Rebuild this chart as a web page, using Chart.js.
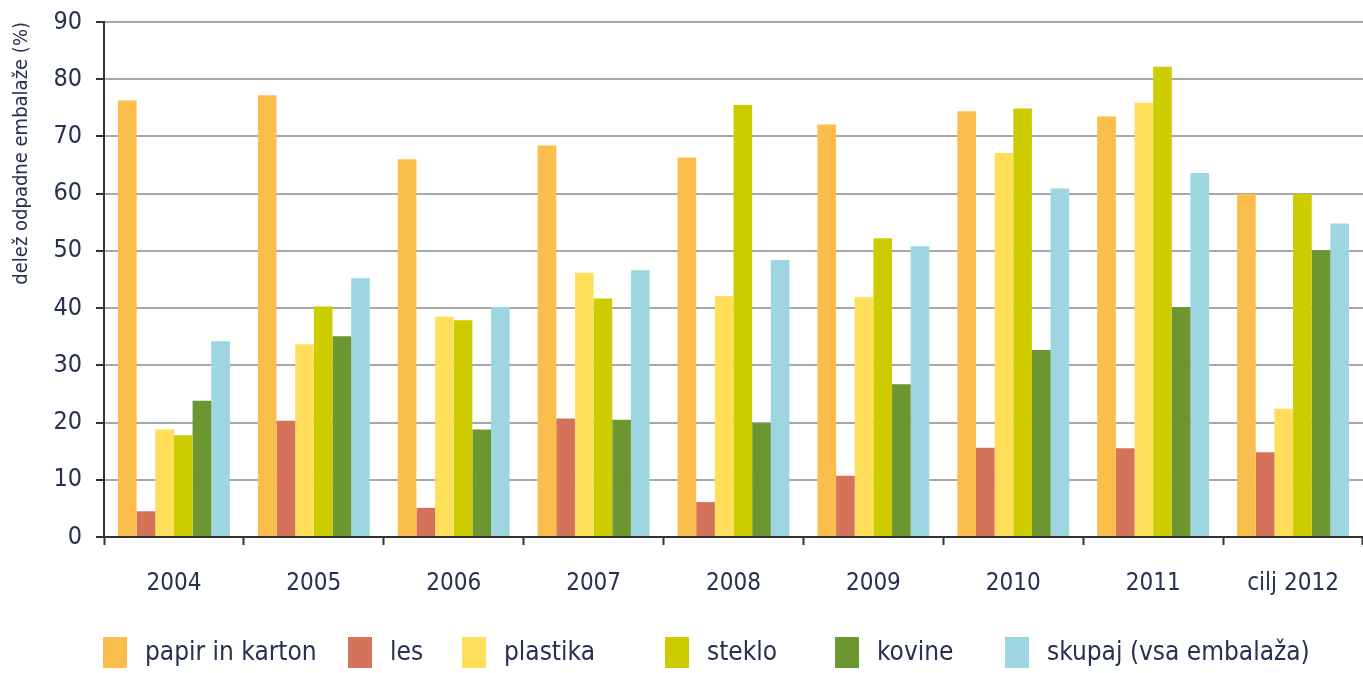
<!DOCTYPE html>
<html>
<head>
<meta charset="utf-8">
<script src="https://cdn.jsdelivr.net/npm/chart.js@4/dist/chart.umd.min.js"></script>
<style>
  html, body { margin: 0; padding: 0; background: #fff; }
  #wrap { width: 1363px; height: 673px; }
</style>
</head>
<body>
<div id="wrap"><canvas id="ChartCanvas" width="1363" height="673"></canvas></div>
<script>
// categories on the x axis
const years = ['2004', '2005', '2006', '2007', '2008', '2009', '2010', '2011', 'cilj 2012'];

// share of packaging waste recovered, per material (%)
const papirInKarton = [76.3, 77.2, 66.0, 68.4, 66.3, 72.1, 74.4, 73.5, 60.0];
const les           = [4.5, 20.3, 5.1, 20.7, 6.1, 10.7, 15.6, 15.5, 14.8];
const plastika      = [18.8, 33.7, 38.5, 46.2, 42.1, 41.9, 67.1, 75.9, 22.4];
const steklo        = [17.8, 40.3, 37.9, 41.7, 75.5, 52.2, 74.9, 82.2, 60.0];
const kovine        = [23.8, 35.1, 18.8, 20.5, 19.9, 26.7, 32.7, 40.2, 50.1];
const skupaj        = [34.2, 45.2, 40.2, 46.6, 48.4, 50.8, 60.9, 63.6, 54.8];

const FONT = "'Liberation Sans Narrow', 'DejaVu Sans Condensed', sans-serif";
const TEXT_COLOR = '#26304f';

// left edge of each legend swatch, the legend in the original is not evenly spaced
const legendX = [103, 348, 462, 665, 835, 1005];

/**
 * Draws the legend row under the axis, one swatch + label per dataset.
 */
const customLegend = {
  id: 'customLegend',
  afterDraw: chart => {
    const ctx = chart.ctx;
    ctx.save();
    ctx.font = '26px ' + FONT;
    ctx.textBaseline = 'middle';
    ctx.textAlign = 'left';
    chart.data.datasets.forEach((ds, i) => {
      const x = legendX[i];
      ctx.fillStyle = ds.backgroundColor;
      ctx.fillRect(x, 637, 24, 31);
      ctx.fillStyle = TEXT_COLOR;
      ctx.fillText(ds.label, x + 42, 653);
    });
    ctx.restore();
  }
};

function makeSet(label, data, color) {
  return {
    label: label,
    data: data,
    backgroundColor: color,
    borderWidth: 0,
    categoryPercentage: 0.8,
    barPercentage: 1.0,
  };
}

const chart = new Chart(document.getElementById('ChartCanvas'), {
  type: 'bar',
  data: {
    labels: years,
    datasets: [
      makeSet('papir in karton', papirInKarton, '#fbbe4c'),
      makeSet('les', les, '#d4735a'),
      makeSet('plastika', plastika, '#ffdf5a'),
      makeSet('steklo', steklo, '#cccc00'),
      makeSet('kovine', kovine, '#6c9630'),
      makeSet('skupaj (vsa embalaža)', skupaj, '#9dd5e0'),
    ]
  },
  options: {
    responsive: false,
    animation: false,
    layout: {
      padding: { top: 22, right: 0, left: 0, bottom: 42 }
    },
    scales: {
      x: {
        grid: {
          offset: true,
          drawOnChartArea: false,
          drawTicks: true,
          tickLength: 8,
          tickColor: '#333',
          tickWidth: 2,
        },
        border: { color: '#333', width: 2 },
        ticks: {
          color: TEXT_COLOR,
          font: { family: FONT, size: 24 },
          padding: 24,
          maxRotation: 0,
        },
        afterFit: (scale) => { scale.height = 94; },
      },
      y: {
        min: 0,
        max: 90,
        ticks: {
          stepSize: 10,
          color: TEXT_COLOR,
          font: { family: FONT, size: 25 },
          padding: 14,
        },
        grid: {
          color: '#a8a8a8',
          lineWidth: 2,
          tickLength: 8,
          tickColor: '#333',
          tickWidth: 2,
        },
        border: { color: '#333', width: 2 },
        title: {
          display: true,
          text: 'delež odpadne embalaže (%)',
          align: 'end',
          color: TEXT_COLOR,
          font: { family: FONT, size: 20 },
          padding: { top: 10, bottom: 0 },
        },
        afterFit: (scale) => {
          scale.width = 104;
          // let the layout padding decide where the 90 line sits
          scale.paddingTop = 0;
          scale.paddingBottom = 0;
        },
      }
    },
    plugins: {
      legend: { display: false },
      tooltip: { enabled: false }
    }
  },
  plugins: [customLegend],
});
</script>
</body>
</html>
